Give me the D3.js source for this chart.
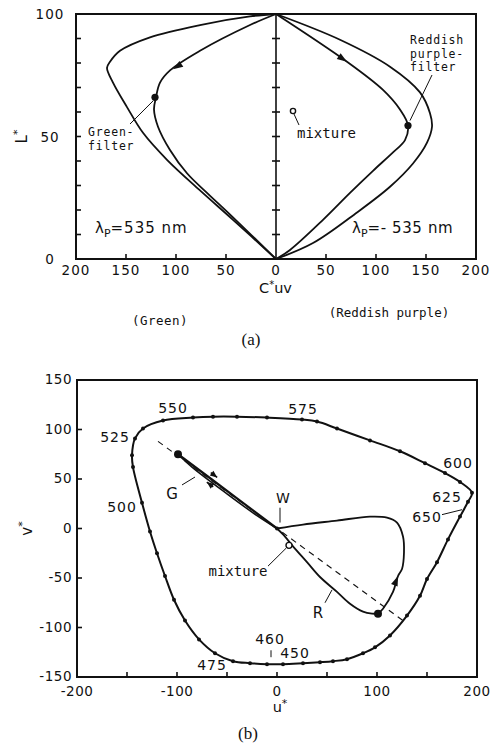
<!DOCTYPE html>
<html><head><meta charset="utf-8">
<script src="https://cdn.jsdelivr.net/npm/d3@7"></script>
<style>body{margin:0;background:#fff}</style>
</head><body>
<svg id="c" width="491" height="744" xmlns="http://www.w3.org/2000/svg"></svg>
<script>
// ================= DATA =================
// (a)  L* versus C*uv  (C values are chroma; green side drawn to the left)
const aXTickValues = [-200, -150, -100, -50, 0, 50, 100, 150, 200];
const aYTickLabels = [0, 50, 100];
const aYMinorTicks = [0, 10, 20, 30, 40, 50, 60, 70, 80, 90, 100];
// spectral-colour boundary, lambda_p = 535 nm  [C*uv, L*]
const greenLocus = [[0,100],[26,99],[76,95.5],[126,90.5],[156,85],[166,80.5],[169,78],[163,72],[149,62],[133,51.5],[109,40.5],[76,28],[43,16],[0,0]];
// green filter  [C*uv, L*]
const greenFilter = [[0,100],[26,95.5],[76,85],[106,77],[116,72],[120,66],[122,61],[118,54],[106,44.5],[89,35],[69,27],[43,17],[0,0]];
const greenFilterPoint = [121, 66];
// boundary, lambda_p = -535 nm  [C*uv, L*]
const purpleLocus = [[0,100],[64,89.5],[114,78.5],[144,68],[154,59.5],[156,54],[151,47.5],[137,39],[114,29.5],[81,19],[37,6.5],[0,0]];
// reddish purple filter  [C*uv, L*]
const purpleFilter = [[0,100],[71,80.5],[107,69],[124,61],[132,54.5],[129,48.5],[117,43.5],[97,36],[74,27],[47,16],[14,3.7],[0,0]];
const purpleFilterPoint = [132, 54.5];
const mixtureA = [17, 60.4];

// (b)  u*, v* diagram
const bXTickLabels = [-200, -100, 0, 100, 200];
const bXMinorTicks = [-150, -100, -50, 0, 50, 100, 150];
const bYTickLabels = [150, 100, 50, 0, -50, -100, -150];
// spectrum locus [u*, v*]
const locusB = [[-134,101],[-114,109],[-84,112],[-64,113],[-40,113],[-10,112],[25,110],[40,108],[60,101],[93,89],[123,78],[148,66],[168,56],[183,47],[195,36],[191,27],[183,12],[171,-11],[160,-34],[150,-51],[143,-68],[130,-88],[113,-108],[98,-120],[86,-126],[70,-132],[56,-134],[43,-135],[26,-136],[6,-137],[-10,-137],[-27,-136],[-44,-134],[-62,-126],[-78,-112],[-92,-93],[-103,-72],[-112,-48],[-120,-25],[-127,-3],[-135,26],[-144,62],[-145,74],[-142,91]];
const wavelengthLabels = ["525","550","575","600","625","650","500","475","460","450"];
const wavelengthPos = [[-162,92],[-104,122],[26,121],[181,66],[170,32],[150,12],[-155,22],[-65,-138],[-7,-112],[18,-126]];
// green filter path out and back [u*, v*]
const gPathOut = [[0,0],[-40,30.5],[-99,75]];
const gPathBack = [[-99,75],[-85,62],[-50,35],[-20,13],[0,0]];
const gPoint = [-99, 75];
// reddish purple filter path [u*, v*]
const rPathOut = [[0,0],[26,4],[60,8],[93,12],[110,11],[120,6],[126,-8],[127,-24],[125,-41],[121,-48],[116,-64],[106,-81],[101,-86]];
const rPathBack = [[101,-86],[95,-86],[86,-84],[73,-76],[60,-64],[43,-49],[30,-34],[16,-18],[6,-6],[0,0]];
const rPoint = [101, -86];
const whitePoint = [0, 0];
const mixtureB = [12, -17];
const complementLine = [[-119, 88], [126, -93]];

// ================= DRAW =================
const svg = d3.select("#c");
const SANS = "DejaVu Sans, sans-serif";
const MONO = "DejaVu Sans Mono, monospace";
const INK = "#111";

function arrowHead(g, x, y, ang, len = 9, half = 3) {
  const c = Math.cos(ang), s = Math.sin(ang);
  const pts = [[x, y],
    [x - len * c + half * s, y - len * s - half * c],
    [x - len * c - half * s, y - len * s + half * c]];
  g.append("polygon").attr("points", pts.map(p => p.join(",")).join(" ")).attr("fill", INK);
}
function txt(g, x, y, t, opts = {}) {
  return g.append("text").attr("x", x).attr("y", y).text(t)
    .attr("font-family", opts.family || SANS).attr("font-size", opts.size || 14)
    .attr("text-anchor", opts.anchor || "start").attr("fill", INK)
    .attr("letter-spacing", opts.ls == null ? 1 : opts.ls);
}

// ---------- (a) ----------
const xA = d3.scaleLinear().domain([-200, 200]).range([76, 476]);
const yA = d3.scaleLinear().domain([0, 100]).range([259, 14]);
const gA = svg.append("g");

gA.append("rect").attr("x", xA(-200)).attr("y", yA(100))
  .attr("width", xA(200) - xA(-200)).attr("height", yA(0) - yA(100))
  .attr("fill", "none").attr("stroke", INK).attr("stroke-width", 2);
// centre axis
gA.append("line").attr("x1", xA(0)).attr("x2", xA(0)).attr("y1", yA(0)).attr("y2", yA(100))
  .attr("stroke", INK).attr("stroke-width", 1.6);
aYMinorTicks.forEach(v => {
  gA.append("line").attr("x1", xA(-200)).attr("x2", xA(-200) + 5).attr("y1", yA(v)).attr("y2", yA(v))
    .attr("stroke", INK).attr("stroke-width", 1.6);
  gA.append("line").attr("x1", xA(0) - 4).attr("x2", xA(0) + 4).attr("y1", yA(v)).attr("y2", yA(v))
    .attr("stroke", INK).attr("stroke-width", 1.6);
});
aXTickValues.forEach(v => {
  if (Math.abs(v) !== 200 && v !== 0)
    gA.append("line").attr("x1", xA(v)).attr("x2", xA(v)).attr("y1", yA(0)).attr("y2", yA(0) - 5)
      .attr("stroke", INK).attr("stroke-width", 1.6);
  txt(gA, xA(v), 275, String(Math.abs(v)), {anchor: "middle", size: 13.5});
});
aYTickLabels.forEach(v => txt(gA, 50, yA(v) + 5, String(v), {anchor: "middle", size: 13.5}));

const lineA = side => d3.line().x(d => xA(side * d[0])).y(d => yA(d[1])).curve(d3.curveCatmullRom.alpha(0.5));
[[greenLocus, -1], [greenFilter, -1], [purpleLocus, 1], [purpleFilter, 1]].forEach(([d, s]) => {
  gA.append("path").attr("d", lineA(s)(d)).attr("fill", "none").attr("stroke", INK).attr("stroke-width", 1.8);
});
gA.append("circle").attr("cx", xA(-greenFilterPoint[0])).attr("cy", yA(greenFilterPoint[1])).attr("r", 3.6).attr("fill", INK);
gA.append("circle").attr("cx", xA(purpleFilterPoint[0])).attr("cy", yA(purpleFilterPoint[1])).attr("r", 3.6).attr("fill", INK);
gA.append("circle").attr("cx", xA(mixtureA[0])).attr("cy", yA(mixtureA[1])).attr("r", 2.6)
  .attr("fill", "#fff").attr("stroke", INK).attr("stroke-width", 1.4);
// arrows on filter curves
{
  const p0 = greenFilter[2], p1 = greenFilter[3];
  const ang = Math.atan2(yA(p1[1]) - yA(p0[1]), xA(-p1[0]) - xA(-p0[0]));
  arrowHead(gA, xA(-p1[0]) + 3, yA(p1[1]) - 1, ang, 10, 3.5);
  const q0 = purpleFilter[0], q1 = purpleFilter[1];
  const ang2 = Math.atan2(yA(q1[1]) - yA(q0[1]), xA(q1[0]) - xA(q0[0]));
  arrowHead(gA, xA(q1[0]), yA(q1[1]), ang2, 10, 3.5);
}
// labels (a)
const lab = {family: MONO, size: 11.5, ls: 0.8};
txt(gA, xA(-188), 136, "Green-", lab);
txt(gA, xA(-188), 150, "filter", lab);
gA.append("line").attr("x1", xA(-146)).attr("y1", 124).attr("x2", xA(-123)).attr("y2", yA(64.5)).attr("stroke", INK).attr("stroke-width", 1);
txt(gA, xA(134), 44, "Reddish", lab);
txt(gA, xA(134), 57.5, "purple-", lab);
txt(gA, xA(134), 71, "filter", lab);
gA.append("line").attr("x1", xA(156)).attr("y1", 75).attr("x2", xA(134)).attr("y2", yA(56.5)).attr("stroke", INK).attr("stroke-width", 1);
gA.append("line").attr("x1", xA(mixtureA[0]) + 1).attr("y1", yA(mixtureA[1]) + 3).attr("x2", xA(mixtureA[0]) + 6).attr("y2", yA(mixtureA[1]) + 14).attr("stroke", INK).attr("stroke-width", 1);
txt(gA, xA(21), yA(49.5), "mixture", {family: MONO, size: 14, ls: 0});
{
  const t = txt(gA, xA(-181), 233, "λ", {size: 15, ls: 0});
  t.append("tspan").attr("font-size", 11).attr("dy", 4).text("P");
  t.append("tspan").attr("dy", -4).attr("letter-spacing", 1).text("=535 nm");
  const t2 = txt(gA, xA(76), 233, "λ", {size: 15, ls: 0});
  t2.append("tspan").attr("font-size", 11).attr("dy", 4).text("P");
  t2.append("tspan").attr("dy", -4).attr("letter-spacing", 0.6).text("=- 535 nm");
}
// axis titles (a)
{
  const t = gA.append("text").attr("transform", `translate(27,${yA(50)}) rotate(-90)`)
    .attr("text-anchor", "middle").attr("font-family", SANS).attr("font-size", 15).attr("fill", INK).text("L");
  t.append("tspan").attr("dy", -6).attr("font-size", 11).text("*");
  const c = txt(gA, 259, 293, "C", {size: 14.5, ls: 0});
  c.append("tspan").attr("dy", -5).attr("font-size", 10).text("*");
  c.append("tspan").attr("dy", 5).text("uv");
}
txt(gA, 160, 325, "(Green)", {family: MONO, size: 12.5, anchor: "middle", ls: 0.5});
txt(gA, 389, 317, "(Reddish purple)", {family: MONO, size: 12.5, anchor: "middle", ls: 0});
txt(gA, 251, 345, "(a)", {family: "Liberation Serif, serif", size: 17, anchor: "middle", ls: 0});

// ---------- (b) ----------
const xB = d3.scaleLinear().domain([-200, 200]).range([77, 477]);
const yB = d3.scaleLinear().domain([-150, 150]).range([677, 380]);
const gB = svg.append("g");
gB.append("rect").attr("x", xB(-200)).attr("y", yB(150))
  .attr("width", xB(200) - xB(-200)).attr("height", yB(-150) - yB(150))
  .attr("fill", "none").attr("stroke", INK).attr("stroke-width", 2);
bYTickLabels.forEach(v => {
  gB.append("line").attr("x1", xB(-200)).attr("x2", xB(-200) + 5).attr("y1", yB(v)).attr("y2", yB(v))
    .attr("stroke", INK).attr("stroke-width", 1.6);
  txt(gB, 72, yB(v) + 4, v < 0 ? "-" + Math.abs(v) : String(v), {anchor: "end", ls: 0.5, size: 13.5});
});
bXMinorTicks.forEach(v => {
  gB.append("line").attr("x1", xB(v)).attr("x2", xB(v)).attr("y1", yB(-150)).attr("y2", yB(-150) - 5)
    .attr("stroke", INK).attr("stroke-width", 1.6);
});
bXTickLabels.forEach(v => txt(gB, xB(v), 696, v < 0 ? "-" + Math.abs(v) : String(v), {anchor: "middle", ls: 0.5, size: 13.5}));

const lineB = d3.line().x(d => xB(d[0])).y(d => yB(d[1])).curve(d3.curveCatmullRom.alpha(0.5));
const closedB = d3.line().x(d => xB(d[0])).y(d => yB(d[1])).curve(d3.curveCatmullRomClosed.alpha(0.5));
gB.append("path").attr("d", closedB(locusB)).attr("fill", "none").attr("stroke", INK).attr("stroke-width", 2);
locusB.forEach(d => gB.append("circle").attr("cx", xB(d[0])).attr("cy", yB(d[1])).attr("r", 2).attr("fill", INK));

// complementary line (dashed)
gB.append("path").attr("d", d3.line().x(d => xB(d[0])).y(d => yB(d[1]))(complementLine))
  .attr("fill", "none").attr("stroke", INK).attr("stroke-width", 1.1).attr("stroke-dasharray", "6,5");
// filter paths
gB.append("path").attr("d", lineB(gPathOut)).attr("fill", "none").attr("stroke", INK).attr("stroke-width", 2.2);
gB.append("path").attr("d", lineB(gPathBack)).attr("fill", "none").attr("stroke", INK).attr("stroke-width", 1.6);
gB.append("path").attr("d", lineB(rPathOut)).attr("fill", "none").attr("stroke", INK).attr("stroke-width", 1.8);
gB.append("path").attr("d", lineB(rPathBack)).attr("fill", "none").attr("stroke", INK).attr("stroke-width", 1.8);
gB.append("circle").attr("cx", xB(gPoint[0])).attr("cy", yB(gPoint[1])).attr("r", 4).attr("fill", INK);
gB.append("circle").attr("cx", xB(rPoint[0])).attr("cy", yB(rPoint[1])).attr("r", 4).attr("fill", INK);
gB.append("circle").attr("cx", xB(whitePoint[0])).attr("cy", yB(whitePoint[1])).attr("r", 2).attr("fill", INK);
gB.append("circle").attr("cx", xB(mixtureB[0])).attr("cy", yB(mixtureB[1])).attr("r", 3)
  .attr("fill", "#fff").attr("stroke", INK).attr("stroke-width", 1.4);
// arrows (b)
{
  const a0 = gPathOut[0], a1 = gPathOut[2];
  const ang = Math.atan2(yB(a1[1]) - yB(a0[1]), xB(a1[0]) - xB(a0[0]));
  const mx = xB(-64), my = yB(48.5);
  const nx = Math.sin(ang), ny = -Math.cos(ang);
  // upper arrow toward G
  const ux = mx + 5 * nx, uy = my + 5 * ny;
  gB.append("line").attr("x1", ux - 4 * Math.cos(ang)).attr("y1", uy - 4 * Math.sin(ang)).attr("x2", ux + 4 * Math.cos(ang)).attr("y2", uy + 4 * Math.sin(ang)).attr("stroke", INK).attr("stroke-width", 1.5);
  arrowHead(gB, ux + 4 * Math.cos(ang), uy + 4 * Math.sin(ang), ang, 7, 3);
  // lower arrow toward W
  const lx = xB(-69) - 5 * nx + 3, ly = yB(52) - 5 * ny + 2;
  gB.append("line").attr("x1", lx - 4 * Math.cos(ang)).attr("y1", ly - 4 * Math.sin(ang)).attr("x2", lx + 4 * Math.cos(ang)).attr("y2", ly + 4 * Math.sin(ang)).attr("stroke", INK).attr("stroke-width", 1.5);
  arrowHead(gB, lx - 4 * Math.cos(ang), ly - 4 * Math.sin(ang), ang + Math.PI, 7, 3);
  // arrow on R path pointing upward
  const r0 = rPathOut[10], r1 = rPathOut[8];
  const angR = Math.atan2(yB(r1[1]) - yB(r0[1]), xB(r1[0]) - xB(r0[0]));
  arrowHead(gB, xB(rPathOut[9][0]), yB(rPathOut[9][1]), angR, 10, 3.5);
}
// labels (b)
wavelengthLabels.forEach((w, i) => {
  txt(gB, xB(wavelengthPos[i][0]), yB(wavelengthPos[i][1]) + 5, w, {anchor: "middle", size: 14, ls: 1});
});
gB.append("line").attr("x1", xB(165)).attr("y1", yB(14)).attr("x2", xB(185)).attr("y2", yB(19)).attr("stroke", INK).attr("stroke-width", 1);
gB.append("line").attr("x1", xB(-6)).attr("y1", yB(-123)).attr("x2", xB(-6)).attr("y2", yB(-130)).attr("stroke", INK).attr("stroke-width", 1);
txt(gB, xB(6), yB(31) + 5, "W", {anchor: "middle", size: 14, ls: 0});
gB.append("line").attr("x1", xB(3)).attr("y1", yB(21)).attr("x2", xB(3)).attr("y2", yB(6)).attr("stroke", INK).attr("stroke-width", 1);
txt(gB, xB(-105), yB(36) + 6, "G", {anchor: "middle", size: 15, ls: 0});
gB.append("line").attr("x1", xB(-95)).attr("y1", yB(44)).attr("x2", xB(-82)).attr("y2", yB(52)).attr("stroke", INK).attr("stroke-width", 1);
txt(gB, xB(41), yB(-84) + 6, "R", {anchor: "middle", size: 15, ls: 0});
gB.append("line").attr("x1", xB(48)).attr("y1", yB(-75)).attr("x2", xB(55)).attr("y2", yB(-62)).attr("stroke", INK).attr("stroke-width", 1);
txt(gB, xB(-39), yB(-43) + 5, "mixture", {anchor: "middle", family: MONO, size: 14, ls: 0});
gB.append("line").attr("x1", xB(-9)).attr("y1", yB(-38)).attr("x2", xB(9)).attr("y2", yB(-20)).attr("stroke", INK).attr("stroke-width", 1);
{
  const t = gB.append("text").attr("transform", `translate(32,${yB(0)}) rotate(-90)`)
    .attr("text-anchor", "middle").attr("font-family", SANS).attr("font-size", 15).attr("fill", INK).text("v");
  t.append("tspan").attr("dy", -6).attr("font-size", 11).text("*");
  const u = txt(gB, 280, 712, "u", {size: 14.5, anchor: "middle", ls: 0});
  u.append("tspan").attr("dy", -5).attr("font-size", 11).text("*");
}
txt(gB, 248, 739, "(b)", {family: "Liberation Serif, serif", size: 17, anchor: "middle", ls: 0});
</script>
</body></html>
